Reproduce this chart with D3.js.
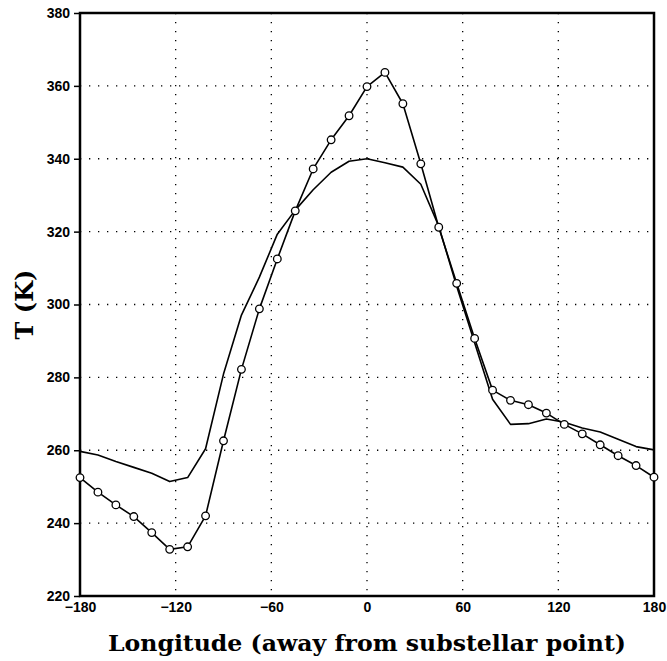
<!DOCTYPE html>
<html>
<head>
<meta charset="utf-8">
<script src="https://cdn.jsdelivr.net/npm/d3@7"></script>
<style>
  body { margin: 0; background: #fff; }
</style>
</head>
<body>
<div id="chart"></div>
<script>
// longitudes every 11.25 deg, -180..180
const lon = d3.range(33).map(i => -180 + i * 11.25);

// solid line, no markers
const tPlain = [259.7, 258.7, 256.9, 255.3, 253.7, 251.4, 252.5, 260.4, 280.9, 297.1,
    307.5, 319.3, 325.9, 331.5, 336.3, 339.3, 340.0, 338.9, 337.7, 333.0,
    321.5, 305.0, 289.5, 274.0, 267.1, 267.3, 268.6, 267.7, 266.1, 265.0,
    263.0, 261.0, 260.1];

// line with open circles
const tCircles = [252.5, 248.5, 245.0, 241.8, 237.4, 232.8, 233.5, 242.0, 262.6, 282.2,
    298.8, 312.5, 325.7, 337.2, 345.2, 351.8, 359.8, 363.7, 355.1, 338.6,
    321.2, 305.8, 290.7, 276.5, 273.7, 272.5, 270.2, 267.1, 264.5, 261.5,
    258.5, 255.8, 252.6];

const xTicks = [-180, -120, -60, 0, 60, 120, 180];
const yTicks = [220, 240, 260, 280, 300, 320, 340, 360, 380];

const W = 667, H = 661;
const margin = {left: 80, right: 13, top: 13, bottom: 65};

const svg = d3.select('#chart')
    .append('svg')
        .attr('width', W)
        .attr('height', H);

const x = d3.scaleLinear().domain([-180, 180]).range([margin.left, W - margin.right]);
const y = d3.scaleLinear().domain([220, 380]).range([H - margin.bottom, margin.top]);

//grid
svg.append('g')
    .selectAll('line')
    .data(xTicks.slice(1, -1))
    .enter()
    .append('line')
        .attr('x1', d => x(d)).attr('x2', d => x(d))
        .attr('y1', y(380)).attr('y2', y(220))
        .style('stroke', '#000')
        .style('stroke-width', 1.3)
        .style('stroke-dasharray', '1.3,7.7');

svg.append('g')
    .selectAll('line')
    .data(yTicks.slice(1, -1))
    .enter()
    .append('line')
        .attr('x1', x(-180)).attr('x2', x(180))
        .attr('y1', d => y(d)).attr('y2', d => y(d))
        .style('stroke', '#000')
        .style('stroke-width', 1.3)
        .style('stroke-dasharray', '1.3,7.7');

//axes
const yAxis = svg.append('g')
    .attr('transform', `translate(${margin.left},0)`)
    .call(d3.axisLeft(y).tickValues(yTicks).tickSize(6).tickPadding(4));

const xAxis = svg.append('g')
    .attr('transform', `translate(0,${H - margin.bottom})`)
    .call(d3.axisBottom(x).tickValues(xTicks).tickSize(0).tickPadding(6)
        .tickFormat(d => d < 0 ? '\u2212' + Math.abs(d) : d));

[yAxis, xAxis].forEach(a => {
    a.select('.domain').remove();
    a.selectAll('text')
        .style('font-family', '"Liberation Sans", Arial, sans-serif')
        .style('font-weight', 'bold')
        .style('font-size', '14px')
        .style('fill', '#000');
    a.selectAll('line').style('stroke', '#000').style('stroke-width', 1.5);
});

//frame
svg.append('rect')
    .attr('x', x(-180))
    .attr('y', y(380))
    .attr('width', x(180) - x(-180))
    .attr('height', y(220) - y(380))
    .style('fill', 'none')
    .style('stroke', '#000')
    .style('stroke-width', 2.5);

//series
const line = d3.line().x((d, i) => x(lon[i])).y(d => y(d));

svg.append('path')
    .datum(tPlain)
    .attr('d', line)
    .style('fill', 'none')
    .style('stroke', '#000')
    .style('stroke-width', 1.6)
    .style('stroke-linejoin', 'round');

svg.append('path')
    .datum(tCircles)
    .attr('d', line)
    .style('fill', 'none')
    .style('stroke', '#000')
    .style('stroke-width', 1.6)
    .style('stroke-linejoin', 'round');

svg.append('g')
    .selectAll('circle')
    .data(tCircles)
    .enter()
    .append('circle')
        .attr('cx', (d, i) => x(lon[i]))
        .attr('cy', d => y(d))
        .attr('r', 3.8)
        .style('fill', '#fff')
        .style('stroke', '#000')
        .style('stroke-width', 1.3);

//titles
svg.append('text')
    .attr('x', (x(-180) + x(180)) / 2)
    .attr('y', 651)
    .attr('text-anchor', 'middle')
    .attr('textLength', 518)
    .attr('lengthAdjust', 'spacingAndGlyphs')
    .style('font-family', '"DejaVu Serif", "Liberation Serif", serif')
    .style('font-weight', 'bold')
    .style('font-size', '22px')
    .text('Longitude (away from substellar point)');

svg.append('text')
    .attr('transform', `translate(33,${(y(220) + y(380)) / 2}) rotate(-90)`)
    .attr('text-anchor', 'middle')
    .style('font-family', '"DejaVu Serif", "Liberation Serif", serif')
    .style('font-weight', 'bold')
    .style('font-size', '24px')
    .text('T (K)');
</script>
</body>
</html>
